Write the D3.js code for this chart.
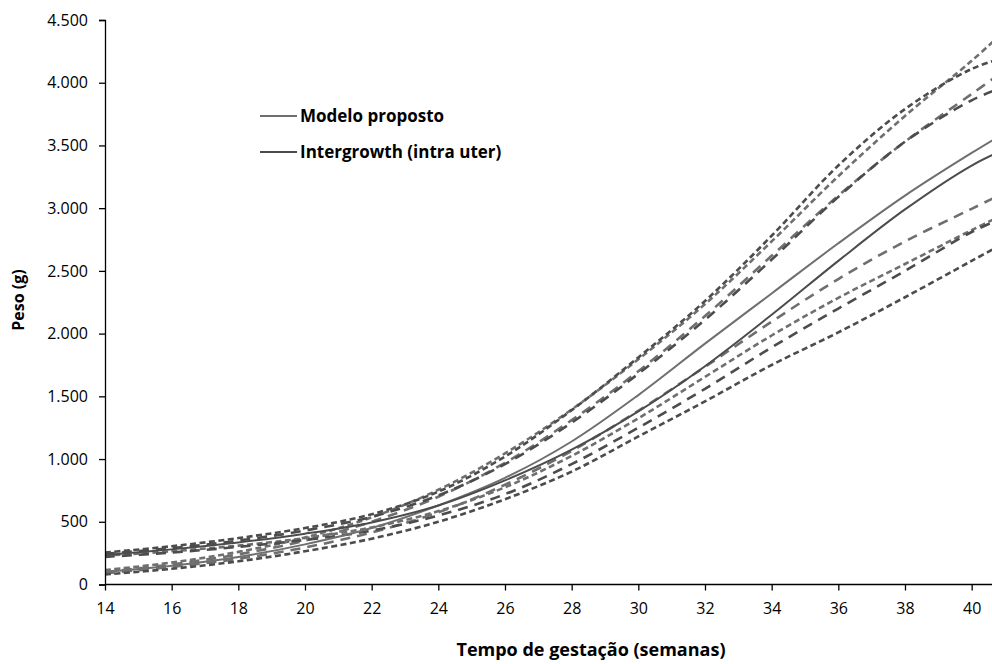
<!DOCTYPE html>
<html>
<head>
<meta charset="utf-8">
<script src="https://cdn.jsdelivr.net/npm/d3@7"></script>
<style>
  body { margin: 0; background: #fff; }
  svg { display: block; font-family: "Open Sans", sans-serif; }
</style>
</head>
<body>
<div id="chart"></div>
<script>
// semanas de gestação e pesos (g)
const semanas = [14, 16, 18, 20, 22, 24, 26, 28, 30, 32, 34, 36, 38, 40, 41];

const modeloProposto = [100, 150, 220, 320, 450, 630, 850, 1140, 1510, 1920, 2320, 2720, 3100, 3440, 3600];
const intergrowth    = [235, 280, 335, 405, 495, 630, 830, 1075, 1380, 1740, 2150, 2580, 2990, 3340, 3470];

// percentis (linhas tracejadas)
const modeloP97 = [115, 175, 260, 375, 535, 755, 1045, 1395, 1795, 2235, 2735, 3255, 3735, 4175, 4415];
const modeloP90 = [100, 160, 240, 350, 500, 700, 970, 1310, 1700, 2140, 2620, 3100, 3530, 3910, 4100];
const modeloP10 = [90, 140, 205, 295, 415, 575, 795, 1065, 1385, 1735, 2095, 2435, 2735, 2995, 3125];
const modeloP3  = [80, 125, 185, 265, 365, 500, 680, 900, 1180, 1460, 1750, 2010, 2290, 2580, 2725];
const igP97 = [255, 305, 370, 450, 560, 740, 1020, 1390, 1810, 2260, 2780, 3340, 3790, 4110, 4200];
const igP90 = [245, 290, 350, 430, 540, 710, 960, 1290, 1680, 2110, 2590, 3090, 3530, 3860, 3970];
const igP10 = [230, 265, 310, 370, 455, 585, 775, 1025, 1325, 1655, 1985, 2285, 2555, 2825, 2955];
const igP3  = [220, 255, 300, 355, 430, 550, 720, 960, 1250, 1560, 1890, 2200, 2500, 2810, 2930];

const xTicks = [14, 16, 18, 20, 22, 24, 26, 28, 30, 32, 34, 36, 38, 40];
const yTicks = [0, 500, 1000, 1500, 2000, 2500, 3000, 3500, 4000, 4500];

const width = 992, height = 664;
const margin = {top: 20, right: 0, bottom: 79.5, left: 105};

const svg = d3.select("#chart").append("svg")
  .attr("width", width)
  .attr("height", height);

const x = d3.scaleLinear()
  .domain([14, 14 + (width - margin.left) / 33.333])
  .range([margin.left, width - margin.right]);

const y = d3.scaleLinear()
  .domain([0, 4500])
  .range([height - margin.bottom, margin.top]);

const ptBR = d3.formatLocale({decimal: ",", thousands: ".", grouping: [3], currency: ["R$", ""]});
const fmt = ptBR.format(",d");

svg.append("clipPath").attr("id", "plot")
  .append("rect")
  .attr("x", margin.left).attr("y", 0)
  .attr("width", width - margin.left).attr("height", height - margin.bottom);

const line = d3.line()
  .x((d, i) => x(semanas[i]))
  .y(d => y(d))
  .curve(d3.curveCatmullRom.alpha(0.5));

const light = "#6f6f6f", dark = "#4c4c4c";
const shortDash = "6,3.5", longDash = "10,7";

const series = [
  {v: modeloP97, c: light, dash: shortDash, w: 2.6},
  {v: igP97, c: dark, dash: shortDash, w: 2.6},
  {v: modeloP90, c: light, dash: longDash, w: 2.6},
  {v: igP90, c: dark, dash: longDash, w: 2.6},
  {v: modeloP10, c: light, dash: longDash, w: 2.6},
  {v: igP10, c: light, dash: shortDash, w: 2.6},
  {v: igP3, c: dark, dash: longDash, w: 2.6},
  {v: modeloP3, c: dark, dash: shortDash, w: 2.6},
  {v: modeloProposto, c: light, dash: null, w: 2},
  {v: intergrowth, c: dark, dash: null, w: 2}
];

svg.append("g").attr("clip-path", "url(#plot)")
  .selectAll("path")
  .data(series)
  .join("path")
  .attr("d", d => line(d.v))
  .attr("fill", "none")
  .attr("stroke", d => d.c)
  .attr("stroke-width", d => d.w)
  .attr("stroke-dasharray", d => d.dash);

// eixos
const xAxis = svg.append("g")
  .attr("transform", `translate(0,${y(0)})`)
  .call(d3.axisBottom(x).tickValues(xTicks).tickSize(6).tickPadding(12));
const yAxis = svg.append("g")
  .attr("transform", `translate(${margin.left},0)`)
  .call(d3.axisLeft(y).tickValues(yTicks).tickFormat(fmt).tickSize(6).tickPadding(11));

[xAxis, yAxis].forEach(g => {
  g.select(".domain").attr("stroke", "#000").attr("stroke-width", 1.3);
  g.selectAll(".tick line").attr("stroke", "#000").attr("stroke-width", 1.3);
  g.selectAll(".tick text").attr("fill", "#000").style("font-size", "16px").style("font-family", "'Open Sans', sans-serif");
});
xAxis.select(".domain").attr("d", `M${margin.left},0H${width}`);

// títulos dos eixos
svg.append("text")
  .attr("x", 591).attr("y", 656)
  .attr("text-anchor", "middle")
  .style("font-size", "18px").style("font-weight", "bold")
  .text("Tempo de gestação (semanas)");

svg.append("text")
  .attr("transform", "translate(24,300) rotate(-90)")
  .attr("text-anchor", "middle")
  .style("font-size", "16px").style("font-weight", "bold")
  .text("Peso (g)");

// legenda
const legend = [
  {label: "Modelo proposto", c: light},
  {label: "Intergrowth (intra uter)", c: dark}
];
const lg = svg.append("g").attr("transform", "translate(260,116)");
legend.forEach((d, i) => {
  const g = lg.append("g").attr("transform", `translate(0,${i * 36})`);
  g.append("line").attr("x1", 0).attr("x2", 37).attr("y1", 0).attr("y2", 0)
    .attr("stroke", d.c).attr("stroke-width", 2.2);
  g.append("text").attr("x", 40).attr("y", 6)
    .style("font-size", "17px").style("font-weight", "bold")
    .text(d.label);
});
</script>
</body>
</html>
